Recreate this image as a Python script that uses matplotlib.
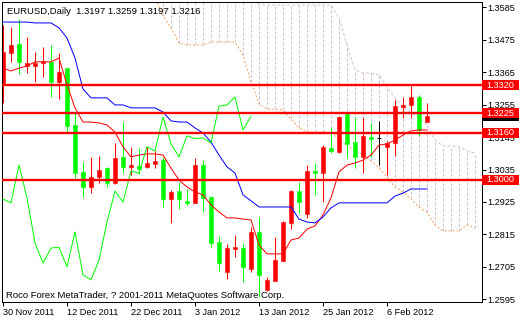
import matplotlib
matplotlib.use('Agg')
import matplotlib.pyplot as plt
import matplotlib.transforms as mtransforms
from matplotlib.patches import Rectangle

# ============================================================
# EURUSD daily bars, 30 Nov 2011 .. 13 Feb 2012 (index 0..53)
# ============================================================
opens = [1.3322, 1.3430, 1.3461, 1.3386, 1.3386, 1.3395, 1.3400, 1.3332, 1.3379, 1.3186,
         1.3027, 1.2976, 1.3010, 1.3040, 1.2989, 1.3078, 1.3044, 1.3047, 1.3044, 1.3054,
         1.3067, 1.2935, 1.2962, 1.2929, 1.2922, 1.3050, 1.2942, 1.2789, 1.2688, 1.2767,
         1.2769, 1.2698, 1.2823, 1.2627, 1.2657, 1.2725, 1.2854, 1.2962, 1.2884, 1.3030,
         1.3023, 1.3108, 1.3095, 1.3223, 1.3128, 1.3078, 1.3145, 1.3142, 1.3112, 1.3125,
         1.3247, 1.3254, 1.3281, 1.3197]
highs = [1.3525, 1.3518, 1.3545, 1.3484, 1.3434, 1.3451, 1.3457, 1.3430, 1.3379, 1.3230,
         1.3061, 1.3078, 1.3081, 1.3044, 1.3125, 1.3196, 1.3112, 1.3108, 1.3112, 1.3098,
         1.3078, 1.2966, 1.2993, 1.2969, 1.3074, 1.3067, 1.2945, 1.2810, 1.2782, 1.2813,
         1.2786, 1.2840, 1.2874, 1.2671, 1.2806, 1.2861, 1.2966, 1.2993, 1.3050, 1.3057,
         1.3118, 1.3179, 1.3216, 1.3223, 1.3213, 1.3213, 1.3193, 1.3200, 1.3132, 1.3271,
         1.3281, 1.3318, 1.3288, 1.3259]
lows = [1.3261, 1.3400, 1.3359, 1.3362, 1.3332, 1.3349, 1.3281, 1.3274, 1.3159, 1.3006,
        1.2942, 1.2955, 1.2989, 1.2976, 1.2986, 1.3023, 1.3016, 1.3020, 1.3040, 1.3040,
        1.2908, 1.2854, 1.2901, 1.2915, 1.2922, 1.2891, 1.2772, 1.2691, 1.2664, 1.2739,
        1.2654, 1.2688, 1.2603, 1.2623, 1.2657, 1.2725, 1.2833, 1.2888, 1.2871, 1.2949,
        1.2925, 1.3091, 1.3091, 1.3074, 1.3040, 1.3023, 1.3078, 1.3050, 1.3016, 1.3081,
        1.3210, 1.3210, 1.3149, 1.3197]
closes = [1.3434, 1.3457, 1.3400, 1.3396, 1.3396, 1.3403, 1.3332, 1.3366, 1.3183, 1.3023,
          1.2976, 1.3010, 1.3033, 1.2989, 1.3074, 1.3044, 1.3050, 1.3037, 1.3057, 1.3064,
          1.2935, 1.2959, 1.2935, 1.2922, 1.3050, 1.2939, 1.2786, 1.2718, 1.2769, 1.2771,
          1.2705, 1.2823, 1.2678, 1.2661, 1.2728, 1.2857, 1.2962, 1.2925, 1.3030, 1.3023,
          1.3112, 1.3098, 1.3213, 1.3122, 1.3078, 1.3149, 1.3140, 1.3142, 1.3125, 1.3250,
          1.3254, 1.3281, 1.3169, 1.3216]

# Ichimoku lines (one value per bar)
tenkan = [1.3379, 1.3369, 1.3379, 1.3386, 1.3400, 1.3400, 1.3400, 1.3413, 1.3322, 1.3244,
          1.3196, 1.3196, 1.3193, 1.3186, 1.3162, 1.3112, 1.3078, 1.3084, 1.3088, 1.3088,
          1.3084, 1.3040, 1.2999, 1.2976, 1.2959, 1.2949, 1.2915, 1.2891, 1.2871, 1.2871,
          1.2867, 1.2864, 1.2779, 1.2749, 1.2749, 1.2749, 1.2796, 1.2803, 1.2833, 1.2844,
          1.2881, 1.2939, 1.3027, 1.3050, 1.3057, 1.3067, 1.3084, 1.3118, 1.3122, 1.3135,
          1.3152, 1.3166, 1.3169, 1.3169]
kijun = [1.3535, 1.3535, 1.3535, 1.3535, 1.3532, 1.3532, 1.3532, 1.3515, 1.3481, 1.3413,
         1.3308, 1.3278, 1.3278, 1.3278, 1.3254, 1.3254, 1.3244, 1.3244, 1.3244, 1.3244,
         1.3230, 1.3200, 1.3196, 1.3196, 1.3176, 1.3159, 1.3128, 1.3084, 1.3044, 1.3023,
         1.2949, 1.2929, 1.2908, 1.2908, 1.2908, 1.2908, 1.2908, 1.2867, 1.2857, 1.2854,
         1.2874, 1.2905, 1.2922, 1.2922, 1.2922, 1.2922, 1.2922, 1.2922, 1.2922, 1.2945,
         1.2955, 1.2969, 1.2969, 1.2969]
CHIKOU_SHIFT = 22

# cloud, bars 19..59 (runs past the last candle)
CLOUD_START = 19
span_a = [1.3620, 1.3556, 1.3515, 1.3464, 1.3457, 1.3457, 1.3457, 1.3467, 1.3467, 1.3467,
          1.3467, 1.3423, 1.3332, 1.3257, 1.3240, 1.3240, 1.3237, 1.3206, 1.3176, 1.3162,
          1.3162, 1.3162, 1.3159, 1.3139, 1.3115, 1.3101, 1.3084, 1.3064, 1.3040, 1.3010,
          1.2976, 1.2959, 1.2935, 1.2908, 1.2891, 1.2847, 1.2827, 1.2827, 1.2827, 1.2847,
          1.2837]
span_b = [1.3640, 1.3640, 1.3640, 1.3640, 1.3640, 1.3640, 1.3640, 1.3640, 1.3640, 1.3640,
          1.3640, 1.3640, 1.3640, 1.3593, 1.3593, 1.3593, 1.3593, 1.3593, 1.3593, 1.3593,
          1.3593, 1.3593, 1.3593, 1.3549, 1.3457, 1.3373, 1.3362, 1.3362, 1.3356, 1.3315,
          1.3278, 1.3247, 1.3227, 1.3210, 1.3186, 1.3135, 1.3115, 1.3115, 1.3112, 1.3098,
          1.3091]

levels = [1.3320, 1.3225, 1.3160, 1.3000]
bid = 1.3216

price_ticks = [1.3585, 1.3475, 1.3365, 1.3255, 1.3145, 1.3035, 1.2925, 1.2815, 1.2705, 1.2595]
date_idx = [0, 8, 16, 24, 32, 40, 48]
date_labels = ['30 Nov 2011', '12 Dec 2011', '22 Dec 2011', '3 Jan 2012',
               '13 Jan 2012', '25 Jan 2012', '6 Feb 2012']

header = 'EURUSD,Daily  1.3197 1.3259 1.3197 1.3216'
footer = 'Roco Forex MetaTrader, ? 2001-2011 MetaQuotes Software Corp.'

# ============================================================
W, H = 520, 320
PX = 0.72          # one pixel in points at dpi 100
FONT = 'Liberation Sans'

plt.rcParams['font.family'] = [FONT, 'DejaVu Sans']

fig = plt.figure(figsize=(W / 100, H / 100), dpi=100, facecolor='white')
ax = fig.add_axes([2 / W, 1 - 301.5 / H, 479.5 / W, 299.5 / H])
ax.set_facecolor('white')

# pixel mapping: bar i at x = 3 + 8 i, 1.3585 at y = 7.3, 2949.5 px per unit
ax.set_xlim(-0.125, 59.8125)
ax.set_ylim(1.3585 - (301.5 - 7.3) / 2949.5, 1.3585 + (7.3 - 2) / 2949.5)

# --- cloud ---
cloud_x = list(range(CLOUD_START, CLOUD_START + len(span_a)))
lo = [min(a, b) for a, b in zip(span_a, span_b)]
hi = [max(a, b) for a, b in zip(span_a, span_b)]
ax.vlines(cloud_x, lo, hi, colors='#D8BFD8', linestyles=[(0, (3, 2))], lw=PX, zorder=1)
ax.plot(cloud_x, span_b, color='#D8BFD8', lw=PX, ls=(0, (3, 2)), zorder=1)
ax.plot(cloud_x, span_a, color='#F4A460', lw=PX, ls=(0, (2, 2)), zorder=1.5)

# --- candles ---
for i, (o, h, l, c) in enumerate(zip(opens, highs, lows, closes)):
    if c > o:
        col = '#FF0000'
    elif c < o:
        col = '#00FF00'
    else:
        col = '#000000'
    ax.vlines(i, l, h, colors=col, lw=PX, zorder=2)
    if c == o:
        ax.hlines(c, i - 0.31, i + 0.31, colors=col, lw=PX, zorder=2)
    else:
        ax.bar(i, abs(c - o), bottom=min(o, c), width=0.62, color=col,
               edgecolor=col, lw=0.4, zorder=2)

# --- indicator lines ---
bars = list(range(len(closes)))
ax.plot(bars, tenkan, color='#FF0000', lw=PX, zorder=3)
ax.plot(bars, kijun, color='#0000FF', lw=PX, zorder=3)
chikou = closes[CHIKOU_SHIFT:]
ax.plot(range(len(chikou)), chikou, color='#00FF00', lw=PX, zorder=3)

# --- horizontal levels ---
for lv in levels:
    ax.axhline(lv, color='#FF0000', lw=1.7, zorder=4)

# --- axes ---
for s in ax.spines.values():
    s.set_linewidth(PX)
    s.set_color('black')
ax.yaxis.tick_right()
ax.set_yticks(price_ticks)
ax.set_yticklabels([f'{p:.4f}' for p in price_ticks])
ax.tick_params(axis='y', direction='out', length=3, width=PX, pad=1.5,
               labelsize=6.6, colors='black')
ax.set_xticks(date_idx)
ax.set_xticklabels(date_labels)
ax.tick_params(axis='x', direction='out', length=3, width=PX, pad=1.5,
               labelsize=6.6, colors='black')
for lab in ax.get_xticklabels():
    lab.set_horizontalalignment('left')

# price labels on the right axis
tr = mtransforms.blended_transform_factory(fig.transFigure, ax.transData)
half = 5 / 2949.5
box = Rectangle((482 / W, bid - half), 37 / W, 2 * half, transform=tr,
                facecolor='black', edgecolor='none', clip_on=False, zorder=5)
fig.add_artist(box)
for lv in levels:
    r = Rectangle((482 / W, lv - half), 37 / W, 2 * half, transform=tr,
                  facecolor='#FF0000', edgecolor='none', clip_on=False, zorder=6)
    fig.add_artist(r)
    fig.text(500.5 / W, lv, f'{lv:.4f}', transform=tr, color='white', fontsize=6.6,
             ha='center', va='center', zorder=7)

fig.text(7 / W, 1 - 11 / H, header, fontsize=6.8, ha='left', va='center', color='black')
fig.text(6 / W, 1 - 295 / H, footer, fontsize=6.8, ha='left', va='center', color='black')

fig.savefig('out.png', dpi=100, facecolor='white')
